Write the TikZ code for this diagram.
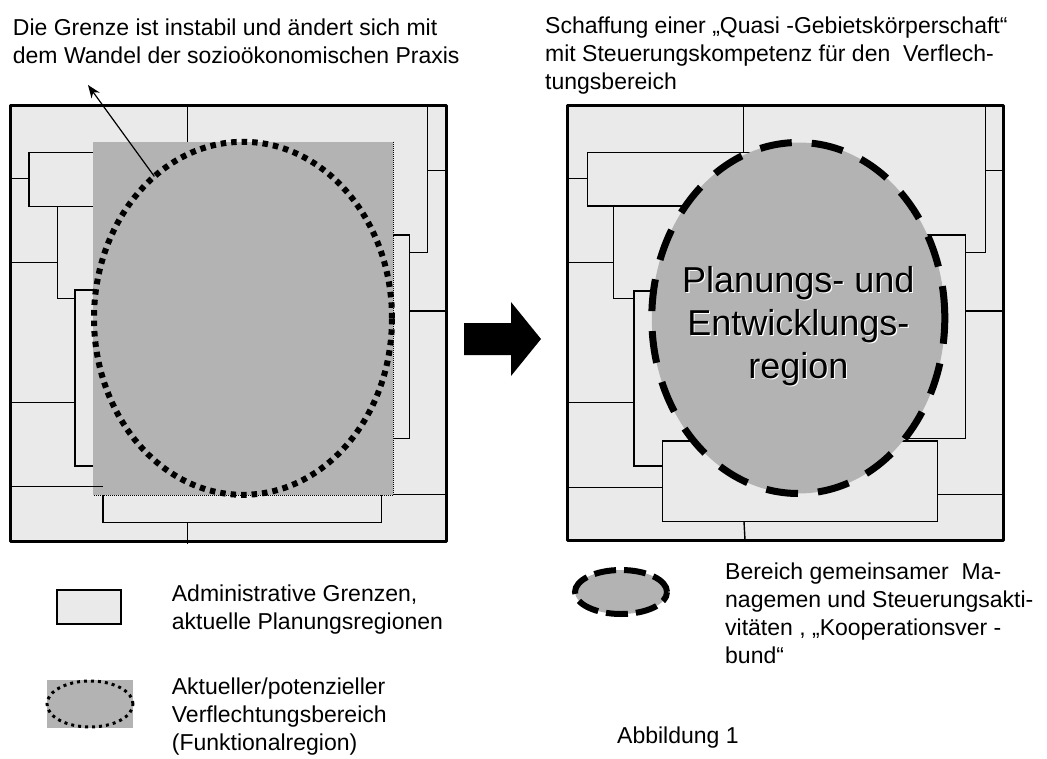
\documentclass[tikz,border=0pt]{standalone}
\usepackage{fontspec}
\setmainfont{Liberation Sans}
\usetikzlibrary{shapes.geometric,arrows.meta}
\definecolor{mapfill}{RGB}{234,234,234}
\definecolor{regfill}{RGB}{179,179,179}
\tikzset{
  mapframe/.style={line width=3pt, line join=round},
  bnd/.style={line width=1.4pt},
  txt/.style={font=\fontsize{23}{28}\selectfont, inner sep=0pt, anchor=base west, align=left},
  regtxt/.style={font=\fontsize{36}{43}\selectfont, inner sep=0pt, align=center},
  rawell/.style={ellipse, inner sep=0pt, outer sep=0pt},
}
\begin{document}
\begin{tikzpicture}[x=1pt,y=-1pt]
\useasboundingbox (0,0) rectangle (1047,758);
% ---------------- left map ----------------
\fill[mapfill] (10,105) rectangle (446,541);
\draw[bnd] (187.3,105) -- (187.3,142);
\draw[bnd] (10,178.3) -- (29,178.3);
\draw[bnd] (93,152.7) -- (29,152.7) -- (29,206.3) -- (93,206.3);
\draw[bnd] (57.3,206.3) -- (57.3,298.3) -- (76,298.3);
\draw[bnd] (10,262.7) -- (57.3,262.7);
\draw[bnd] (93,290) -- (75,290) -- (75,466) -- (93,466);
\draw[bnd] (10,402.3) -- (75,402.3);
\draw[bnd] (103,495) -- (103,522.3) -- (381.7,522.3) -- (381.7,495);
\draw[bnd] (187.3,522.3) -- (187.3,544);
\draw[bnd] (427.3,105) -- (427.3,252.3) -- (409.3,252.3);
\draw[bnd] (427.3,170.7) -- (448,170.7);
\draw[bnd] (393,235) -- (409.3,235) -- (409.3,438.3) -- (393,438.3);
\draw[bnd] (409.3,311) -- (448,311);
\draw[bnd] (381.7,494.3) -- (448,494.3);
\fill[regfill] (93.3,141.7) rectangle (393.3,495);
\draw[line width=0.8pt, dash pattern=on 1pt off 1pt] (393.3,141.7) -- (393.3,495) -- (93.3,495);
\draw[bnd] (10,486.7) -- (103,486.7);
\node[rawell, draw, line width=6pt, dash pattern=on 5.5pt off 5pt,
      minimum width=298pt, minimum height=353pt] (fr) at (243,318.3) {};
\draw[mapframe] (10,105) rectangle (446,541);
\coordinate (tip) at (88,85);
\draw[line width=1.2pt, -{Stealth[length=13pt,width=10pt]}] (fr.122) -- (tip);
% ---------------- block arrow ----------------
\fill (464,323) -- (511,323) -- (511,302) -- (541,339) -- (511,376) -- (511,355) -- (464,355) -- cycle;
% ---------------- right map ----------------
\fill[mapfill] (567,105) rectangle (1003,540);
\draw[bnd] (743.3,105) -- (743.3,152.7);
\draw[bnd] (567,178.3) -- (587.3,178.3);
\draw[bnd] (760,152.7) -- (587.3,152.7) -- (587.3,206) -- (700,206);
\draw[bnd] (613.3,206) -- (613.3,298.3) -- (634,298.3);
\draw[bnd] (567,262.7) -- (613.3,262.7);
\draw[bnd] (670,291) -- (634,291) -- (634,466) -- (662.3,466);
\draw[bnd] (567,402.3) -- (634,402.3);
\draw[bnd] (567,487.3) -- (662.3,487.3);
\draw[bnd] (662.3,441) rectangle (937.3,521.7);
\draw[bnd] (744,521.7) -- (745,540);
\draw[bnd] (985.7,105) -- (985.7,252.3) -- (965.7,252.3);
\draw[bnd] (985.7,170.7) -- (1003,170.7);
\draw[bnd] (920,235) -- (965.7,235) -- (965.7,438.3) -- (900,438.3);
\draw[bnd] (965.7,311) -- (1003,311);
\draw[bnd] (937.3,494.3) -- (1003,494.3);
\node[rawell, fill=regfill, draw, line width=7pt, dash pattern=on 32pt off 20pt,
      minimum width=293pt, minimum height=351pt] (pe) at (798.3,318) {};
\draw[mapframe] (567,105) rectangle (1003,540);
\node[regtxt, text=white] (pesh) at (799.5,327.2) {Planungs- und\\Entwicklungs-\\region};
\node[regtxt] (pet) at (798.3,326) {Planungs- und\\Entwicklungs-\\region};
% ---------------- top texts ----------------
\node[txt] (tl) at (12.7,63) {Die Grenze ist instabil und ändert sich mit\\dem Wandel der sozioökonomischen Praxis};
\node[txt] (tr) at (545,89) {Schaffung einer „Quasi -Gebietskörperschaft“\\mit Steuerungskompetenz für den\ \ Verflech-\\tungsbereich};
% ---------------- legend ----------------
\node[draw, fill=mapfill, line width=1.4pt, minimum width=64pt, minimum height=34pt, inner sep=0pt] (lg1) at (89,607) {};
\node[txt] (lt1) at (171.7,629) {Administrative Grenzen,\\aktuelle Planungsregionen};
\node[fill=regfill, minimum width=86.6pt, minimum height=48.3pt, inner sep=0pt] (lg2) at (90,704.2) {};
\node[rawell, draw, line width=3pt, dash pattern=on 3pt off 4pt,
      minimum width=86pt, minimum height=46pt] (lg2e) at (90,704) {};
\node[txt] (lt2) at (171.7,750) {Aktueller/potenzieller\\Verflechtungsbereich\\(Funktionalregion)};
\node[rawell, fill=regfill, draw, line width=6pt, dash pattern=on 22pt off 8pt,
      minimum width=92pt, minimum height=44pt] (lg3) at (621,592) {};
\node[txt] (lt3) at (725,663) {Bereich gemeinsamer\ \ Ma-\\nagemen und Steuerungsakti-\\vitäten , „Kooperationsver -\\bund“};
\node[txt] (abb) at (617,743) {Abbildung 1};
\end{tikzpicture}
\end{document}
